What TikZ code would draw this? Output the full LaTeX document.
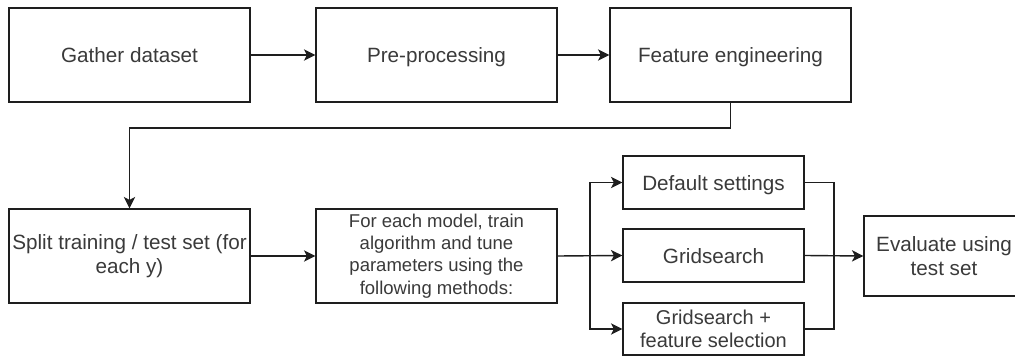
\documentclass[tikz,border=0pt]{standalone}
\usepackage{fontspec}
\setmainfont{Liberation Sans}
\usetikzlibrary{arrows.meta}
\definecolor{ink}{HTML}{1E1E1E}
\definecolor{words}{HTML}{3A3A3A}
\tikzset{
  box/.style={draw=ink, line width=1.05pt, fill=white, text=words, align=center,
    inner sep=2pt, font=\fontsize{15.5}{18.5}\selectfont},
  oneline/.style={text height=12pt, text depth=0pt},
  bigbox/.style={box, minimum width=180.75pt, minimum height=70.5pt},
  smallbox/.style={box, minimum width=135.75pt, minimum height=39.75pt},
  link/.style={draw=ink, line width=1.05pt},
  arrow/.style={link, -{Stealth[length=8.5pt, width=8.5pt, inset=2.2pt]}}
}
\begin{document}
\begin{tikzpicture}[x=0.75pt, y=-0.75pt]
  \useasboundingbox (0,0) rectangle (1015,356);
  \clip (0,0) rectangle (1015,356);
  \fill[white] (0,0) rectangle (1015,356);

  % first row
  \node[bigbox, oneline] (gather) at (129.5,55) {Gather dataset};
  \node[bigbox, oneline] (prep) at (436.5,55) {Pre-processing};
  \node[bigbox, oneline] (feat) at (730.5,55) {Feature engineering};

  % second row
  \node[bigbox] (split) at (129.5,256) {Split training / test set (for\\each y)};
  \node[bigbox, font=\fontsize{13.9}{16.7}\selectfont] (train) at (436.5,256)
    {For each model, train\\algorithm and tune\\parameters using the\\following methods:};

  % tuning methods
  \node[smallbox, oneline] (default) at (713.5,182.5) {Default settings};
  \node[smallbox, oneline] (grid) at (713.5,255.5) {Gridsearch};
  \node[smallbox, minimum height=39pt, font=\fontsize{15}{17.25}\selectfont] (gridfs) at (713.5,329)
    {Gridsearch +\\feature selection};

  % evaluation
  \node[box, minimum width=120pt, minimum height=60pt] (eval) at (944,256)
    {Evaluate using\\test set};

  % connectors
  \draw[arrow] (gather) -- (prep);
  \draw[arrow] (prep) -- (feat);

  \coordinate (turn) at (730.5,128);
  \draw[link] (feat.south) -- (turn);
  \draw[arrow] (turn) -| (split.north);

  \draw[arrow] (split) -- (train);

  \coordinate (fork) at (590,256);
  \draw[arrow] (train.east) -- (grid.west);
  \draw[arrow] (fork) |- (default.west);
  \draw[arrow] (fork) |- (gridfs.west);

  \coordinate (join) at (834,256);
  \draw[link] (default.east) -| (join);
  \draw[link] (gridfs.east) -| (join);
  \draw[arrow] (grid.east) -- (eval.west);
\end{tikzpicture}
\end{document}
